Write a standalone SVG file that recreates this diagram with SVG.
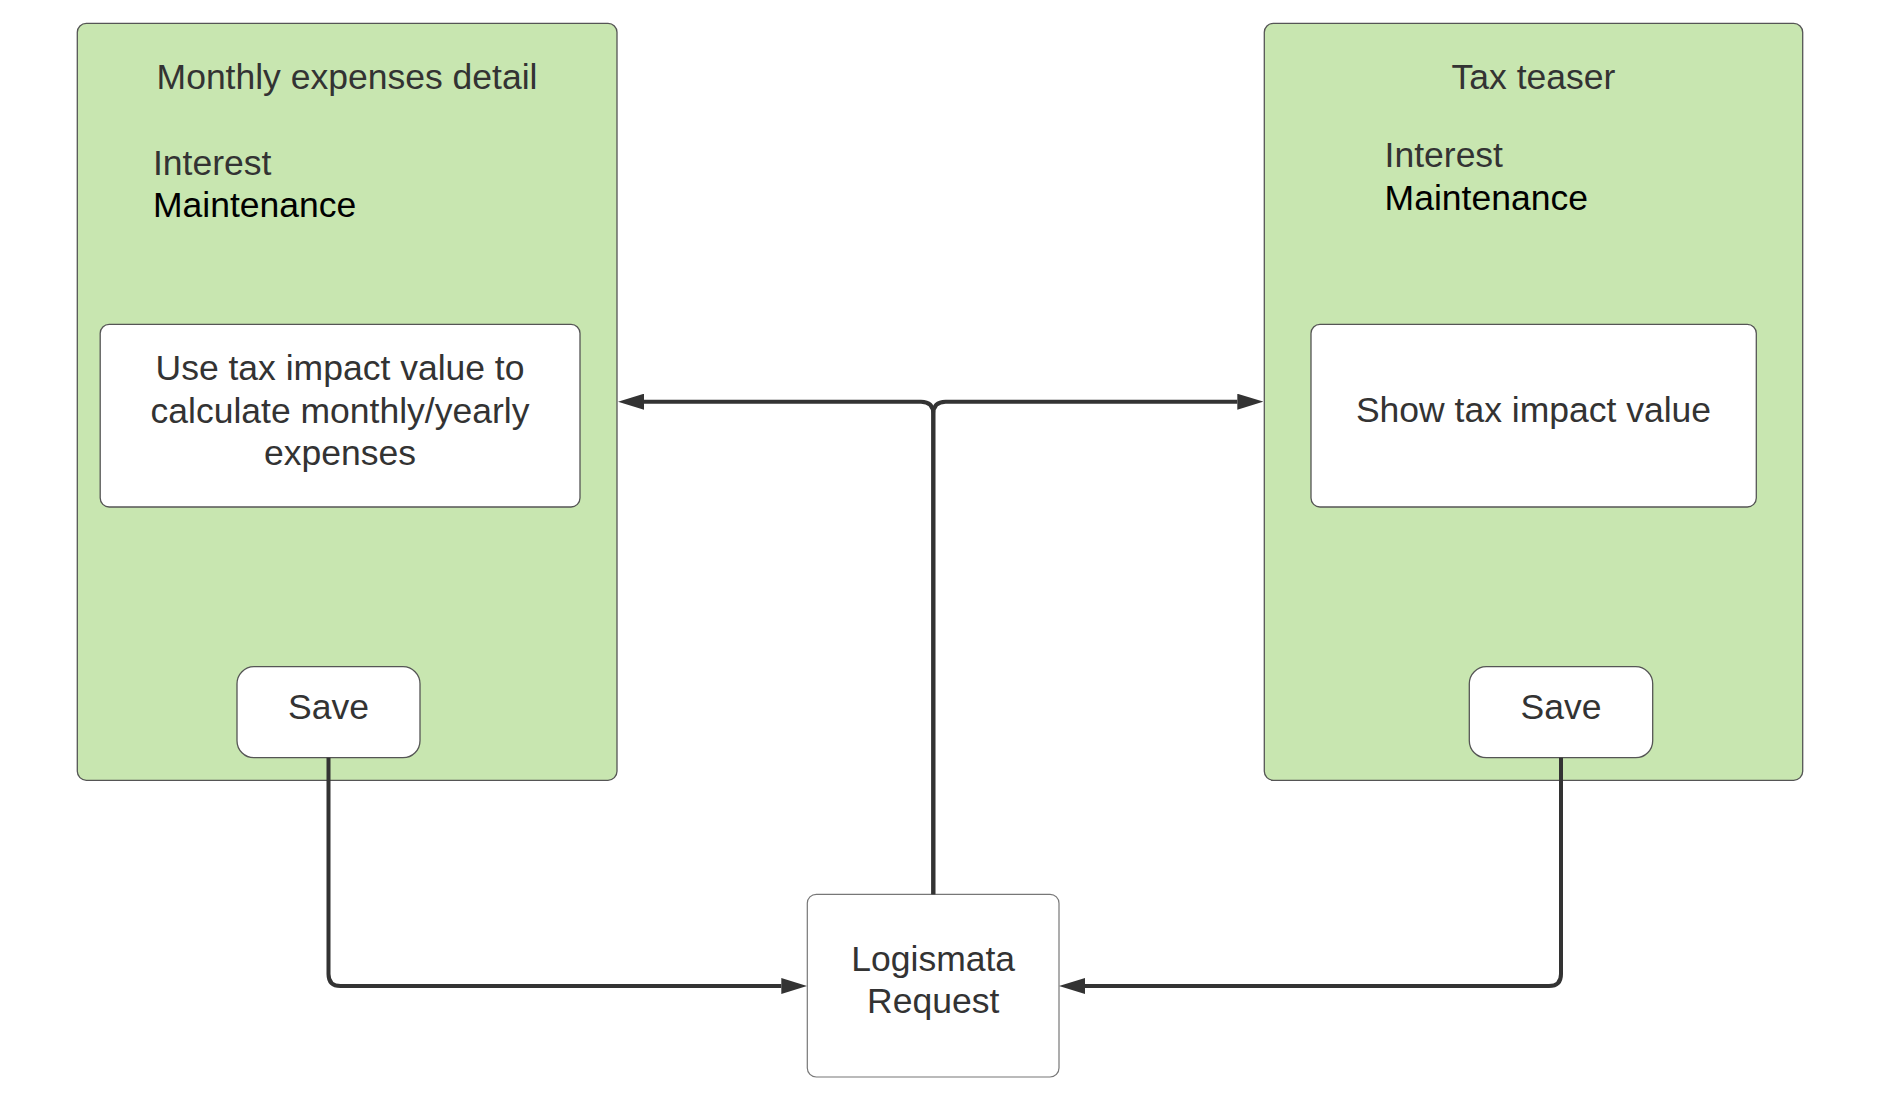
<svg xmlns="http://www.w3.org/2000/svg" width="1892" height="1116" viewBox="0 0 1892 1116">
  <style>
    .container { fill: #c8e6b0; stroke: #555555; stroke-width: 1.3; }
    .box { fill: #ffffff; stroke: #555555; stroke-width: 1.3; }
    .plain { fill: #ffffff; stroke: #777777; stroke-width: 1.2; }
    text { font-family: "Liberation Sans", Arial, sans-serif; font-size: 35.5px; fill: #333333; }
    .mid { text-anchor: middle; }
    .dark { fill: #000000; }
    .conn { fill: none; stroke: #333333; stroke-width: 4; }
  </style>
  <defs>
    <marker id="arrow" viewBox="0 -8 26 16" refX="0" refY="0" markerWidth="26" markerHeight="16" markerUnits="userSpaceOnUse" orient="auto">
      <path d="M0,-8 L26,0 L0,8 z" fill="#333333"/>
    </marker>
  </defs>
  <rect width="1892" height="1116" fill="#ffffff"/>

  <g id="monthly-expenses-detail">
    <rect class="container" x="77.3" y="23.3" width="539.7" height="757" rx="9"/>
    <text class="mid" x="347" y="88.5">Monthly expenses detail</text>
    <text x="153" y="175">Interest</text>
    <text class="dark" x="153" y="217">Maintenance</text>
  </g>
  <g id="use-tax-impact">
    <rect class="box" x="100.2" y="324.3" width="479.8" height="182.7" rx="9"/>
    <text class="mid" x="340" y="380">Use tax impact value to</text>
    <text class="mid" x="340" y="423">calculate monthly/yearly</text>
    <text class="mid" x="340" y="465">expenses</text>
  </g>
  <g id="save-left">
    <rect class="box" x="237" y="666.7" width="183" height="91" rx="17"/>
    <text class="mid" x="328.5" y="719">Save</text>
  </g>

  <g id="tax-teaser">
    <rect class="container" x="1264.3" y="23.3" width="538.4" height="757" rx="9"/>
    <text class="mid" x="1533.5" y="88.5">Tax teaser</text>
    <text x="1384.6" y="167">Interest</text>
    <text class="dark" x="1384.6" y="210">Maintenance</text>
  </g>
  <g id="show-tax-impact">
    <rect class="box" x="1311" y="324.3" width="445.3" height="182.7" rx="9"/>
    <text class="mid" x="1533.5" y="421.7">Show tax impact value</text>
  </g>
  <g id="save-right">
    <rect class="box" x="1469.3" y="666.7" width="183.4" height="91" rx="17"/>
    <text class="mid" x="1561" y="719">Save</text>
  </g>

  <g id="logismata-request">
    <rect class="plain" x="807.3" y="894.3" width="251.7" height="182.7" rx="9"/>
    <text class="mid" x="933.2" y="971">Logismata</text>
    <text class="mid" x="933.2" y="1013.3">Request</text>
  </g>

  <g id="connectors">
    <path class="conn" d="M933.3,894.3 L933.3,414 Q933.3,401.7 921,401.7 L644,401.7" marker-end="url(#arrow)"/>
    <path class="conn" d="M933.3,894.3 L933.3,414 Q933.3,401.7 945.6,401.7 L1237.3,401.7" marker-end="url(#arrow)"/>
    <path class="conn" d="M328.5,757.7 L328.5,974 Q328.5,986 340.5,986 L781.3,986" marker-end="url(#arrow)"/>
    <path class="conn" d="M1561,757.7 L1561,974 Q1561,986 1549,986 L1085,986" marker-end="url(#arrow)"/>
  </g>
</svg>
